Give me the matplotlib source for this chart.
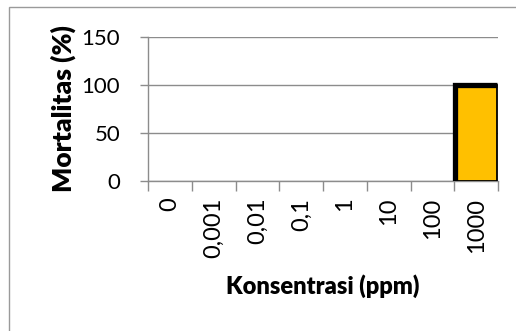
import matplotlib
matplotlib.use("Agg")
import matplotlib.pyplot as plt
from matplotlib.patches import Rectangle

# Mortality per concentration group
concentrations = ["0", "0,001", "0,01", "0,1", "1", "10", "100", "1000"]
mortality = [0, 0, 0, 0, 0, 0, 0, 100]
y_ticks = [0, 50, 100, 150]

plt.rcParams['font.family'] = ['Lato', 'DejaVu Sans']

W, H = 516, 331
fig = plt.figure(figsize=(W / 100, H / 100), dpi=100)

# chart frame (only top and left edges fall inside the image)
fig.patches.append(Rectangle((9 / W, -0.1), 1.2, 1 - 7 / H + 0.1,
                             transform=fig.transFigure, fill=False,
                             edgecolor="#9a9a9a", linewidth=1.0))

ax = fig.add_axes([148 / W, 1 - 181 / H, (498 - 148) / W, (181 - 37) / H])

x = list(range(len(concentrations)))
bars = ax.bar(x, mortality, width=0.95, color="#FFC000",
              edgecolor="black", linewidth=1.3, zorder=3)
for b, v in zip(bars, mortality):
    if v == 0:
        b.set_visible(False)
        continue
    # heavy outline along the left and top of the bar
    x0, x1 = b.get_x(), b.get_x() + b.get_width()
    ax.plot([x0, x0, x1], [0, b.get_height(), b.get_height()], color="black",
            linewidth=3.8, solid_joinstyle="miter", solid_capstyle="butt", zorder=4)

ax.set_xlim(-0.5, len(concentrations) - 0.5)
ax.set_ylim(0, 150)
ax.set_yticks(y_ticks)
ax.yaxis.grid(True, color="#8c8c8c", linewidth=1.0)
ax.set_axisbelow(True)

ax.set_xticks([i + 0.5 for i in range(-1, len(concentrations))], minor=False)
ax.set_xticklabels([])
ax.set_xticks(x, minor=True)
ax.set_xticklabels(concentrations, minor=True, rotation=90, fontsize=17)
ax.tick_params(axis="x", which="major", length=7, color="#8c8c8c", width=1.0)
ax.tick_params(axis="x", which="minor", length=0, pad=12)
ax.tick_params(axis="y", length=6, color="#8c8c8c", width=1.0, labelsize=16, pad=14)

for s in ["top", "right"]:
    ax.spines[s].set_visible(False)
for s in ["left", "bottom"]:
    ax.spines[s].set_color("#8c8c8c")
    ax.spines[s].set_linewidth(1.0)

ax.set_ylabel("Mortalitas (%)", fontsize=19, fontweight="heavy", labelpad=4)
ax.set_xlabel("Konsentrasi (ppm)", fontsize=17, fontweight="heavy", labelpad=12)

fig.savefig("out.png", dpi=100)
